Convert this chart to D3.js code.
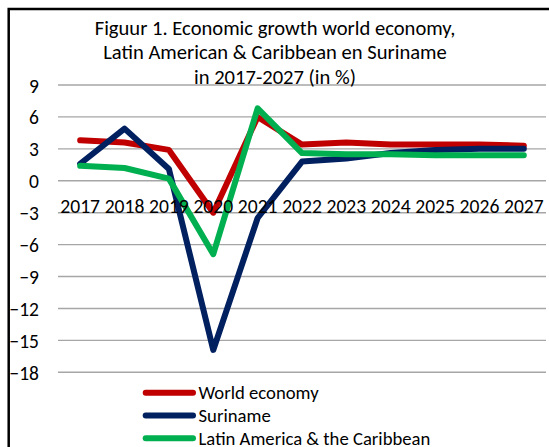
<!DOCTYPE html>
<html>
<head>
<meta charset="utf-8">
<script src="https://cdn.jsdelivr.net/npm/d3@7/dist/d3.min.js"></script>
<style>
  html, body { margin: 0; padding: 0; background: #fff; }
  svg { display: block; }
  text { font-family: Carlito, Calibri, Lato, "Liberation Sans", sans-serif; fill: #000; }
</style>
</head>
<body>
<svg id="chart" width="549" height="447"></svg>
<script>
// Economic growth (%) per year
const years = ["2017","2018","2019","2020","2021","2022","2023","2024","2025","2026","2027"];
const worldEconomy = [3.8, 3.6, 2.9, -3.0, 6.0, 3.4, 3.6, 3.4, 3.4, 3.4, 3.3];
const suriname     = [1.6, 4.9, 1.1, -15.9, -3.5, 1.8, 2.1, 2.6, 2.9, 3.0, 3.0];
const latinAmerica = [1.4, 1.2, 0.2, -6.9, 6.8, 2.6, 2.5, 2.5, 2.4, 2.4, 2.4];
const yTicks = [9, 6, 3, 0, -3, -6, -9, -12, -15, -18];
const titleLines = [
  "Figuur 1. Economic growth world economy,",
  "Latin American & Caribbean en Suriname",
  "in 2017-2027 (in %)"
];

const series = [
  { name: "World economy", values: worldEconomy, color: "#C00000" },
  { name: "Suriname", values: suriname, color: "#002060" },
  { name: "Latin America & the Caribbean", values: latinAmerica, color: "#00B050" }
];

const svg = d3.select("#chart");

// outer frame (right and bottom edges fall outside the canvas)
svg.append("rect")
  .attr("x", 8.7).attr("y", 9)
  .attr("width", 600).attr("height", 500)
  .attr("fill", "none").attr("stroke", "#000").attr("stroke-width", 2.5);

const plot = { left: 58, right: 546, top: 85, bottom: 372.3 };

const x = d3.scaleBand().domain(years).range([plot.left, plot.right]);
const y = d3.scaleLinear().domain([-18, 9]).range([plot.bottom, plot.top]);

// horizontal gridlines
svg.append("g").selectAll("line").data(yTicks).join("line")
  .attr("x1", plot.left).attr("x2", plot.right)
  .attr("y1", d => y(d)).attr("y2", d => y(d))
  .attr("stroke", "#a6a6a6").attr("stroke-width", 1.4);

// y-axis labels
const yAxis = d3.axisLeft(y).tickValues(yTicks).tickSize(0).tickPadding(0).tickFormat(d3.format("d"));
const gy = svg.append("g").attr("transform", "translate(39,0)").call(yAxis);
gy.select(".domain").remove();
gy.selectAll("text").attr("font-size", 19.5).attr("font-family", null).attr("dy", "0.36em");

// series lines
const line = d3.line().x((d, i) => x(years[i]) + x.bandwidth() / 2).y(d => y(d));
svg.append("g").selectAll("path").data(series).join("path")
  .attr("d", d => line(d.values))
  .attr("fill", "none")
  .attr("stroke", d => d.color)
  .attr("stroke-width", 6)
  .attr("stroke-linejoin", "round")
  .attr("stroke-linecap", "round");

// category labels sit just under the zero line, drawn over the series
const xAxis = d3.axisBottom(x).tickSize(0).tickPadding(0);
const gx = svg.append("g").attr("transform", `translate(0,${y(0)})`).call(xAxis);
gx.select(".domain").remove();
gx.selectAll("text").attr("font-size", 19.6).attr("font-family", null).attr("dy", null).attr("y", 32.5);

// title
svg.append("g").selectAll("text").data(titleLines).join("text")
  .attr("x", 275).attr("y", (d, i) => 34.5 + i * 24.8)
  .attr("text-anchor", "middle")
  .attr("font-size", 20.6)
  .text(d => d);

// legend
const legend = svg.append("g").selectAll("g").data(series).join("g")
  .attr("transform", (d, i) => `translate(0,${392.7 + i * 22.8})`);
legend.append("line")
  .attr("x1", 145.7).attr("x2", 193)
  .attr("stroke", d => d.color).attr("stroke-width", 6).attr("stroke-linecap", "round");
legend.append("text")
  .attr("x", 198.5).attr("dy", "0.36em")
  .attr("font-size", 18.7)
  .text(d => d.name);
</script>
</body>
</html>
